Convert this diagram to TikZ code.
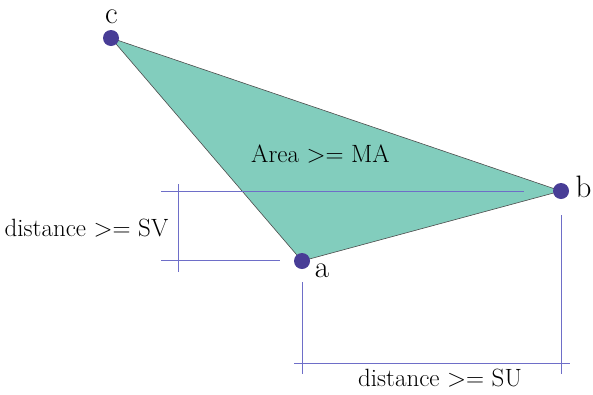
\documentclass[tikz,border=0pt]{standalone}
\begin{document}
\begin{tikzpicture}[x=1pt,y=-1pt,
  dot/.style={circle,fill=dotc,inner sep=0pt,minimum size=16pt},
  guide/.style={draw=guidec,line width=0.7pt},
  lbl/.style={font=\fontsize{25}{30}\selectfont,inner sep=0pt,anchor=base},
  vlbl/.style={font=\fontsize{31}{36}\selectfont,inner sep=0pt,anchor=base}]
\definecolor{dotc}{RGB}{72,61,150}
\definecolor{fillc}{RGB}{130,205,189}
\definecolor{guidec}{RGB}{110,110,200}
\useasboundingbox (0,0) rectangle (593,394);
\coordinate (A) at (302,261);
\coordinate (B) at (561,191);
\coordinate (C) at (111,38);
\filldraw[fill=fillc,draw=black!70,line width=0.6pt] (A) -- (B) -- (C) -- cycle;
% guide lines
\coordinate (h1s) at (161,191); \coordinate (h1e) at (524,191);
\coordinate (h2s) at (161,260); \coordinate (h2e) at (280,260);
\coordinate (v1s) at (178,184); \coordinate (v1e) at (178,272);
\coordinate (v2s) at (302.5,282); \coordinate (v2e) at (302.5,374);
\coordinate (v3s) at (561.5,215); \coordinate (v3e) at (561.5,374);
\coordinate (h3s) at (294,363); \coordinate (h3e) at (570,363);
\draw[guide] (h1s) -- (h1e);
\draw[guide] (h2s) -- (h2e);
\draw[guide] (v1s) -- (v1e);
\draw[guide] (v2s) -- (v2e);
\draw[guide] (v3s) -- (v3e);
\draw[guide] (h3s) -- (h3e);
\node[dot] (a) at (A) {};
\node[dot] (b) at (B) {};
\node[dot] (c) at (C) {};
\node[vlbl] (la) at (322,277) {a};
\node[vlbl] (lb) at (583.5,197) {b};
\node[vlbl] (lc) at (111.5,23) {c};
\node[lbl] (area) at (320.5,162) {Area >= MA};
\node[lbl] (sv) at (86.5,236) {distance >= SV};
\node[lbl] (su) at (440,386) {distance >= SU};
\end{tikzpicture}
\end{document}
